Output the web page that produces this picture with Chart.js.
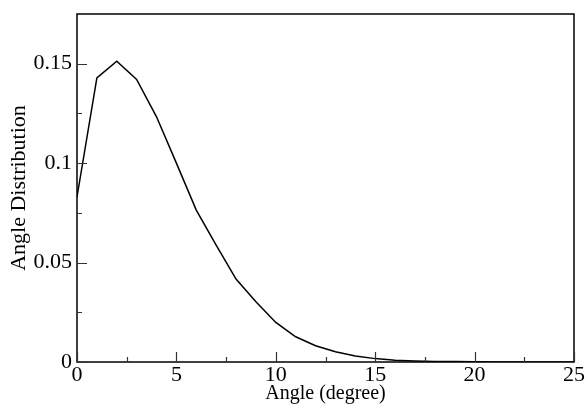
<!DOCTYPE html>
<html>
<head>
<meta charset="utf-8">
<script src="https://cdn.jsdelivr.net/npm/chart.js@4/dist/chart.umd.min.js"></script>
<style>
  html, body { margin: 0; padding: 0; background: #fff; }
  #wrap { width: 587px; height: 406px; position: relative; }
</style>
</head>
<body>
<div id="wrap"><canvas id="c" width="587" height="406"></canvas></div>
<script>
// Angle distribution sampled at whole degrees
const angles = [0, 1, 2, 3, 4, 5, 6, 7, 8, 9, 10, 11, 12, 13, 14, 15, 16, 17, 18, 19, 20, 21, 22, 23, 24, 25];
const distribution = [0.083, 0.1429, 0.1513, 0.1421, 0.1233, 0.1000, 0.0764, 0.0588, 0.0417, 0.0303,
  0.0199, 0.0127, 0.0082, 0.0052, 0.0030, 0.0017, 0.0009, 0.0005, 0.0003, 0.0002,
  0.0001, 0.00005, 0.00003, 0.00002, 0.00001, 0];
const xMajor = [0, 5, 10, 15, 20, 25];
const xMinor = [2.5, 7.5, 12.5, 17.5, 22.5];
const yMajor = [0, 0.05, 0.1, 0.15];
const yMinor = [0.025, 0.075, 0.125];

const FONT = "'Liberation Serif', 'Times New Roman', serif";

// Frame plus inward-pointing major/minor ticks on the left and bottom axes
const frameTicks = {
  id: 'frameTicks',
  afterDatasetsDraw(chart) {
    const { ctx, chartArea: a, scales } = chart;
    const xs = scales.x, ys = scales.y;
    ctx.save();
    ctx.strokeStyle = '#000';
    ctx.lineWidth = 1.5;
    ctx.strokeRect(a.left, a.top, a.right - a.left, a.bottom - a.top);
    ctx.lineWidth = 1.2;
    ctx.strokeStyle = '#333';
    ctx.beginPath();
    xMajor.forEach(v => { const p = Math.round(xs.getPixelForValue(v)) + 0.5; ctx.moveTo(p, a.bottom); ctx.lineTo(p, a.bottom - 10); });
    xMinor.forEach(v => { const p = Math.round(xs.getPixelForValue(v)) + 0.5; ctx.moveTo(p, a.bottom); ctx.lineTo(p, a.bottom - 5); });
    yMajor.forEach(v => { const p = Math.round(ys.getPixelForValue(v)) + 0.5; ctx.moveTo(a.left, p); ctx.lineTo(a.left + 10, p); });
    yMinor.forEach(v => { const p = Math.round(ys.getPixelForValue(v)) + 0.5; ctx.moveTo(a.left, p); ctx.lineTo(a.left + 5, p); });
    ctx.stroke();
    ctx.restore();
  }
};

new Chart(document.getElementById('c'), {
  type: 'line',
  data: {
    datasets: [{
      data: angles.map((a, i) => ({ x: a, y: distribution[i] })),
      borderColor: '#000',
      borderWidth: 1.5,
      pointRadius: 0,
      tension: 0,
      fill: false
    }]
  },
  options: {
    responsive: false,
    animation: false,
    layout: { padding: { top: 14, right: 13, left: 0, bottom: 0 } },
    plugins: { legend: { display: false }, tooltip: { enabled: false } },
    scales: {
      x: {
        type: 'linear',
        min: 0, max: 25,
        afterFit(s) { s.height = 44; s.paddingLeft = 0; s.paddingRight = 0; },
        afterBuildTicks(s) { s.ticks = xMajor.map(v => ({ value: v })); },
        grid: { display: false, drawTicks: false },
        border: { display: false },
        ticks: { color: '#000', font: { family: FONT, size: 22 }, padding: 0, maxRotation: 0,
          callback: v => String(v) },
        title: { display: true, text: 'Angle (degree)', color: '#000',
          font: { family: FONT, size: 20 }, padding: { top: -6, bottom: 0 } }
      },
      y: {
        type: 'linear',
        min: 0, max: 0.175,
        afterFit(s) { s.width = 77; s.paddingTop = 0; s.paddingBottom = 0; },
        afterBuildTicks(s) { s.ticks = yMajor.map(v => ({ value: v })); },
        grid: { display: false, drawTicks: false },
        border: { display: false },
        ticks: { color: '#000', font: { family: FONT, size: 22 }, padding: 5,
          callback: v => String(+v.toFixed(3)) },
        title: { display: true, text: 'Angle Distribution', color: '#000',
          font: { family: FONT, size: 22 }, padding: { top: 6, bottom: 0 } }
      }
    }
  },
  plugins: [frameTicks]
});
</script>
</body>
</html>
